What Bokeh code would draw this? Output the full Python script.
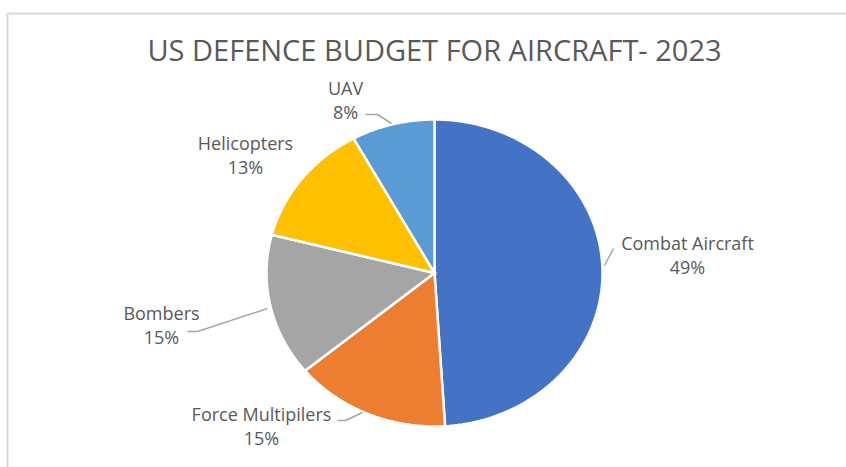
import numpy as np
from bokeh.plotting import figure
from bokeh.models import Range1d
from bokeh.core.properties import value
from bokeh.embed import file_html
from bokeh.resources import INLINE

# ---- data ----
title = "US DEFENCE BUDGET FOR AIRCRAFT- 2023"
categories = ["Combat Aircraft", "Force Multipilers", "Bombers", "Helicopters", "UAV"]
shares = [49, 15, 15, 13, 8]
colors = ["#4472C4", "#ED7D31", "#A5A5A5", "#FFC000", "#5B9BD5"]

# ---- layout ----
W, H = 846, 467
CX, CY, RX, RY = 434, 272.5, 168, 153.5
FONT = "Open Sans"
TXT = "#595959"

p = figure(width=W, height=H, output_backend="svg", toolbar_location=None,
           x_range=Range1d(0, W), y_range=Range1d(H, 0), min_border=0)
p.axis.visible = False
p.grid.visible = False
p.outline_line_color = None
p.background_fill_color = "white"
p.border_fill_color = "white"

# chart frame
p.line([7, 7, W + 5], [H + 5, 13, 13], line_color="#D9D9D9", line_width=2)

# pie (elliptical, from shares)
total = float(sum(shares))
cum = np.concatenate([[0.0], np.cumsum(shares)]) / total
xs, ys = [], []
for i in range(len(shares)):
    t = np.linspace(cum[i] * 2 * np.pi, cum[i + 1] * 2 * np.pi, 120)
    xs.append(np.concatenate([[CX], CX + RX * np.sin(t), [CX]]).tolist())
    ys.append(np.concatenate([[CY], CY - RY * np.cos(t), [CY]]).tolist())
p.patches(xs, ys, fill_color=colors, line_color="white", line_width=2.5,
          line_join="miter")

# leader lines
leaders = [
    ([613, 604], [248, 265]),
    ([337, 345, 362], [420, 420, 412]),
    ([187, 197, 267], [331, 331, 308]),
    ([365, 377, 391], [114, 114, 123]),
]
for lx, ly in leaders:
    p.line(lx, ly, line_color="#A6A6A6", line_width=1.5)

# labels
label_pos = {
    "Combat Aircraft": (687, 242),
    "Force Multipilers": (261, 413),
    "Bombers": (161, 312),
    "Helicopters": (245, 142),
    "UAV": (345, 87),
}
lx = [label_pos[c][0] for c in categories]
ly = [label_pos[c][1] for c in categories]
pct = [f"{round(s / total * 100)}%" for s in shares]
p.text(lx, ly, text=categories, text_align="center", text_baseline="middle",
       text_font=value(FONT), text_font_size="18px", text_color=TXT)
p.text(lx, [y + 24.5 for y in ly], text=pct, text_align="center",
       text_baseline="middle", text_font=value(FONT), text_font_size="18px",
       text_color=TXT)

# title
p.text([434], [49], text=[title], text_align="center", text_baseline="middle",
       text_font=value(FONT), text_font_size="29px", text_color=TXT)

open("out.html", "w").write(file_html(p, INLINE))
